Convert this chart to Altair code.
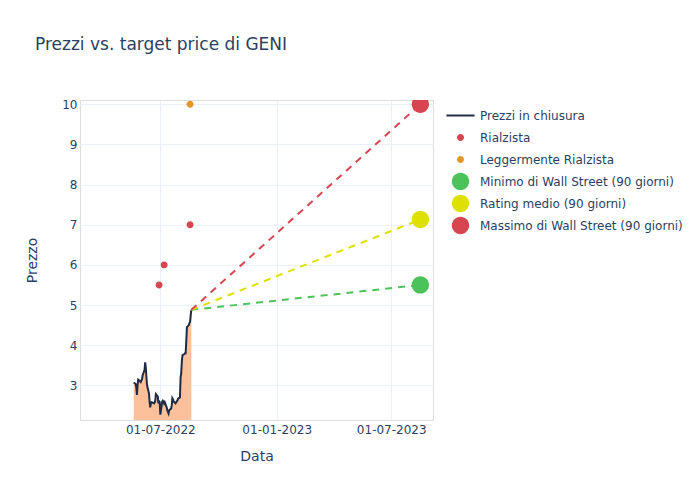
import altair as alt
import pandas as pd

# ---- data ----
price_dates = [d.strftime("%Y-%m-%d") for d in pd.bdate_range("2022-05-20", "2022-08-19")]
prices = [3.07, 3.03, 2.95, 2.76, 3.00, 3.14, 3.10, 3.08, 3.12, 3.15, 3.25,
          3.38, 3.57, 3.45, 3.20, 3.00, 2.80, 2.60, 2.45, 2.55, 2.58,
          2.56, 2.55, 2.57, 2.62, 2.78, 2.72, 2.55, 2.60, 2.58, 2.27,
          2.60, 2.62, 2.60, 2.55, 2.58, 2.45, 2.38, 2.34, 2.30, 2.38,
          2.42, 2.50, 2.68, 2.65, 2.60, 2.55, 2.58, 2.60, 2.62, 2.67,
          2.70, 3.20, 3.30, 3.60, 3.75, 3.78, 3.80, 3.80, 4.10, 4.45,
          4.50, 4.55, 4.58, 4.75, 4.88]

analyst_dates = ["2022-06-29", "2022-07-07", "2022-08-17", "2022-08-17"]
analyst_values = [5.5, 6.0, 7.0, 10.0]
analyst_series = ["Rialzista", "Rialzista", "Rialzista", "Leggermente Rialzista"]

target_date = "2023-08-16"
target_values = [5.5, 7.13, 10.0]
target_series = ["Minimo di Wall Street (90 giorni)",
                 "Rating medio (90 giorni)",
                 "Massimo di Wall Street (90 giorni)"]

series_domain = ["Prezzi in chiusura", "Rialzista", "Leggermente Rialzista",
                 "Minimo di Wall Street (90 giorni)", "Rating medio (90 giorni)",
                 "Massimo di Wall Street (90 giorni)"]
series_colors = ["#1f2a44", "#d64550", "#e3972a", "#4cc35a", "#dee000", "#d64550"]
# legend / marker symbols (unit paths; invisible moveTo points keep every legend row equal)
LINE_SYM = "M0,-1M0,1M-1.62,-0.115H1.62V0.115H-1.62Z"
DOT_SYM = ("M0,-1M0,1M0.4,0C0.4,0.221 0.221,0.4 0,0.4C-0.221,0.4 -0.4,0.221 -0.4,0"
           "C-0.4,-0.221 -0.221,-0.4 0,-0.4C0.221,-0.4 0.4,-0.221 0.4,0Z")
BIG_SYM = ("M1,0C1,0.5523 0.5523,1 0,1C-0.5523,1 -1,0.5523 -1,0"
           "C-1,-0.5523 -0.5523,-1 0,-1C0.5523,-1 1,-0.5523 1,0Z")
series_shapes = [LINE_SYM, DOT_SYM, DOT_SYM, BIG_SYM, BIG_SYM, BIG_SYM]

# ---- tables ----
price_df = pd.DataFrame({"date": price_dates, "price": prices})
points_df = pd.DataFrame({
    "date": analyst_dates + [target_date] * len(target_values),
    "value": analyst_values + target_values,
    "serie": analyst_series + target_series,
})
last_date, last_price = price_dates[-1], prices[-1]
dash_rows = []
for s, v in zip(target_series, target_values):
    dash_rows.append({"date": last_date, "value": last_price, "serie": s})
    dash_rows.append({"date": target_date, "value": v, "serie": s})
dash_df = pd.DataFrame(dash_rows)

FONT = "DejaVu Sans"
TXT = "#2a3f5f"
SYM_SIZE = 300

x_scale = alt.Scale(type="utc", domain=[alt.DateTime(year=2022, month=2, date=24, utc=True),
                                        alt.DateTime(year=2023, month=9, date=5, utc=True)])
y_scale = alt.Scale(domain=[2.136, 10.107], nice=False, zero=False)

x_enc = alt.X("date:T", scale=x_scale, title="Data",
              axis=alt.Axis(values=[alt.DateTime(year=2022, month=7, date=1, utc=True),
                                    alt.DateTime(year=2023, month=1, date=1, utc=True),
                                    alt.DateTime(year=2023, month=7, date=1, utc=True)],
                            format="%d-%m-%Y", labelPadding=4, titlePadding=14))

area = alt.Chart(price_df).mark_area(color="#fcc09a", opacity=1, clip=True).encode(
    x=x_enc,
    y=alt.Y("price:Q", scale=y_scale, title="Prezzo",
            axis=alt.Axis(values=[3, 4, 5, 6, 7, 8, 9, 10], labelPadding=3, titlePadding=22)),
)
line = alt.Chart(price_df).mark_line(color="#1f2a44", strokeWidth=2, clip=True).encode(
    x="date:T", y="price:Q")

dashes = alt.Chart(dash_df).mark_line(strokeDash=[7, 6], strokeWidth=2, clip=True).encode(
    x="date:T", y="value:Q",
    stroke=alt.Stroke("serie:N", scale=alt.Scale(domain=target_series,
                                                 range=["#4cc35a", "#dee000", "#d64550"]),
                      legend=None),
    detail="serie:N",
)

pts = alt.Chart(points_df).mark_point(filled=True, opacity=1, clip=True, size=SYM_SIZE).encode(
    x="date:T", y="value:Q",
    color=alt.Color("serie:N", scale=alt.Scale(domain=series_domain, range=series_colors),
                    legend=alt.Legend(title=None, orient="none", legendX=371, legendY=6,
                                      labelFont=FONT, labelFontSize=12, labelColor=TXT,
                                      rowPadding=-11, symbolOpacity=1, labelLimit=300,
                                      symbolSize=SYM_SIZE, labelOffset=10)),
    shape=alt.Shape("serie:N", scale=alt.Scale(domain=series_domain, range=series_shapes)),
)

chart = alt.layer(area, line, dashes, pts).properties(
    width=353, height=320,
    title=alt.TitleParams("Prezzi vs. target price di GENI", anchor="start", frame="group",
                          dx=-45, offset=44, font=FONT, fontSize=17, fontWeight="normal",
                          color=TXT),
    autosize=alt.AutoSizeParams(type="none"),
    padding={"left": 80, "top": 100, "right": 267, "bottom": 80},
).configure_view(stroke=None).configure(background="white").configure_axis(
    labelFont=FONT, labelFontSize=12, labelColor=TXT,
    titleFont=FONT, titleFontSize=14, titleColor=TXT, titleFontWeight="normal",
    gridColor="#ebf0f8", domain=False, ticks=False,
)

chart.save("out.html", embed_options={"renderer": "svg", "actions": False})
